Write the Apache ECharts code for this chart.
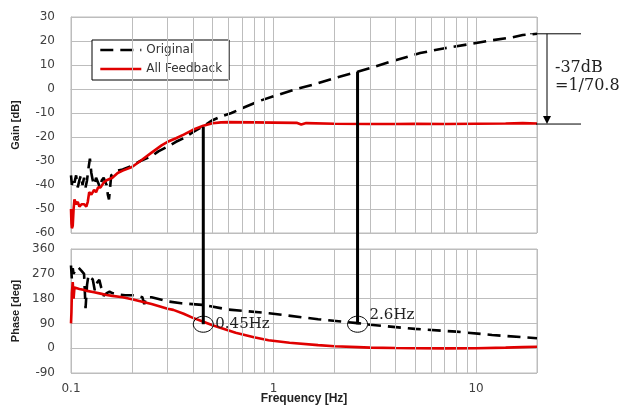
<!DOCTYPE html>
<html>
<head>
<meta charset="utf-8">
<script src="https://cdn.jsdelivr.net/npm/echarts@6/dist/echarts.min.js"></script>
<style>html,body{margin:0;padding:0;background:#fff}#c{width:622px;height:406px}</style>
</head>
<body>
<div id="c"></div>
<script>
// ---- data ----
const gainOrigFreq = [0.100,0.101,0.102,0.104,0.106,0.108,0.110,0.112,0.114,0.116,0.118,0.120,0.122,0.124,0.126,0.128,0.130,0.133,0.136,0.139,0.142,0.145,0.148,0.150,0.152,0.154,0.156,0.158,0.162,0.170,0.180,0.20,0.22,0.25,0.27,0.30,0.33,0.36,0.40,0.45,0.50,0.55,0.62,0.70,0.85,1.0,1.3,1.6,2.0,2.6,3.0,4.0,5.3,7.0,9.3,12,15,17,20];
const gainOrig     = [-36,-40,-37,-39,-36,-41,-38,-36,-40,-37,-41,-38,-33,-29,-35,-38,-40,-37,-39,-41,-38,-37,-39,-40,-44,-46,-41,-36,-35,-34,-33.5,-32,-30,-28,-26,-24,-22,-20.5,-18,-15.5,-13,-11.5,-10,-8,-5,-3,0,2,4.5,7.2,8.7,12,15,17,18.7,20.3,21.5,22.5,23];
const gainFbFreq = [0.100,0.1005,0.101,0.102,0.103,0.104,0.106,0.108,0.110,0.113,0.116,0.119,0.121,0.123,0.126,0.130,0.133,0.136,0.140,0.145,0.150,0.160,0.170,0.180,0.20,0.22,0.25,0.28,0.30,0.33,0.36,0.40,0.45,0.50,0.55,0.6,0.8,1.0,1.3,1.37,1.45,2,3,4,5,7,10,14,17,20];
const gainFb     = [-50,-56,-58,-57,-50,-46,-48,-47,-49,-48,-48,-49,-47,-43,-44,-42,-43,-41,-41,-39,-38,-37,-35,-34,-32.5,-30,-26.5,-23.5,-22,-20.5,-19,-17,-15.3,-14.3,-13.9,-13.8,-13.9,-14,-14.1,-14.8,-14.2,-14.5,-14.6,-14.6,-14.5,-14.6,-14.5,-14.4,-14.2,-14.4];
const phaseOrigFreq = [0.100,0.101,0.102,0.103,0.105,0.108,0.110,0.113,0.116,0.118,0.120,0.122,0.125,0.128,0.131,0.135,0.138,0.141,0.145,0.150,0.155,0.160,0.170,0.185,0.21,0.225,0.23,0.235,0.25,0.30,0.35,0.45,0.6,0.95,1.66,2.6,3,5,8,12,20];
const phaseOrig     = [300,250,290,270,285,295,290,280,270,145,230,265,255,250,210,240,248,220,190,200,205,200,195,192,192,185,160,185,185,170,163,157,140,127,105,91,85,70,60,48,36];
const phaseFbFreq = [0.100,0.1005,0.101,0.102,0.103,0.104,0.106,0.110,0.115,0.120,0.130,0.140,0.150,0.160,0.18,0.20,0.25,0.30,0.32,0.36,0.40,0.444,0.5,0.65,0.8,0.945,1.2,1.66,2.0,2.6,3,4,5,7,10,14,17,20];
const phaseFb     = [90,130,200,240,180,220,225,215,212,208,203,198,193,190,185,178,160,143,139,125,110,98,83,56,40,29,20,11,7,4,2,0.5,0,-0.5,0,2,4,5];
const minorFreqs = [0.2,0.3,0.4,0.5,0.6,0.7,0.8,0.9,2,3,4,5,6,7,8,9];
const markFreqs = [0.45, 2.6];
const markGainTop = [-15.8, 7.2];
const markPhase = [87, 87];
const markLabels = ['0.45Hz', '2.6Hz'];
const bracketGains = [23, -14.6];
const bracketLabels = ['-37dB', '=1/70.8'];
const seriesNames = ['Original', 'All Feedback'];

const zip = (a, b) => a.map((v, i) => [v, b[i]]);
const GRID = '#bdbdbd';
const TICKFONT = {fontFamily: 'DejaVu Sans', fontSize: 12, color: '#404040'};

function xAx(idx, showLabel) {
  return {
    type: 'log', logBase: 10, min: 0.1, max: 20, gridIndex: idx,
    axisLine: {show: true, lineStyle: {color: GRID}},
    axisTick: {show: false},
    splitLine: {show: true, lineStyle: {color: GRID, width: 1}},
    axisLabel: Object.assign({show: showLabel, margin: 10, showMaxLabel: false,
      formatter: v => String(+v.toPrecision(3))}, TICKFONT),
    name: showLabel ? 'Frequency [Hz]' : '', nameLocation: 'middle', nameGap: 20,
    nameMoveOverlap: false,
    nameTextStyle: {fontFamily: 'Liberation Sans', fontWeight: 'bold', fontSize: 12, color: '#222'}
  };
}
function yAx(idx, min, max, interval, name) {
  return {
    type: 'value', gridIndex: idx, min, max, interval,
    axisLine: {show: true, lineStyle: {color: GRID}},
    axisTick: {show: false},
    splitLine: {show: true, lineStyle: {color: GRID, width: 1}},
    axisLabel: Object.assign({margin: 16}, TICKFONT),
    name, nameLocation: 'middle', nameGap: 50, nameMoveOverlap: false,
    nameTextStyle: {fontFamily: 'Liberation Sans', fontWeight: 'bold', fontSize: 11, color: '#222'}
  };
}
function minorSeries(idx) {
  return {
    type: 'line', xAxisIndex: idx, yAxisIndex: idx, data: [], z: 1, silent: true,
    markLine: {silent: true, symbol: ['none', 'none'], label: {show: false},
      lineStyle: {color: GRID, type: 'solid', width: 1},
      data: minorFreqs.map(v => ({xAxis: v}))}
  };
}
const dashStyle = {color: '#000', width: 2.6, type: [13, 7]};
const redStyle = {color: '#e00000', width: 2.6};

const chart = echarts.init(document.getElementById('c'), null, {renderer: 'canvas'});
const option = {
  animation: false,
  backgroundColor: '#fff',
  grid: [
    {left: 71, right: 85, top: 17, height: 216, show: true, borderColor: GRID, borderWidth: 1, outerBoundsMode: 'none'},
    {left: 71, right: 85, top: 249, height: 124, show: true, borderColor: GRID, borderWidth: 1, outerBoundsMode: 'none'}
  ],
  xAxis: [xAx(0, false), xAx(1, true)],
  yAxis: [yAx(0, -60, 30, 10, 'Gain [dB]'), yAx(1, -90, 360, 90, 'Phase [deg]')],
  legend: {
    data: seriesNames, orient: 'vertical', left: 92, top: 40,
    backgroundColor: '#fff', borderColor: '#000', borderWidth: 1,
    padding: [4, 7, 5, 7], itemGap: 7, itemWidth: 41, itemHeight: 14,
    selectedMode: false,
    itemStyle: {opacity: 0, borderWidth: 0},
    lineStyle: {width: 2.6},
    textStyle: {fontFamily: 'DejaVu Sans', fontSize: 12, color: '#333'}
  },
  series: [
    minorSeries(0), minorSeries(1),
    {name: seriesNames[0], type: 'line', xAxisIndex: 0, yAxisIndex: 0, symbol: 'none', z: 3,
      lineStyle: dashStyle, itemStyle: {color: '#000'}, data: zip(gainOrigFreq, gainOrig)},
    {name: seriesNames[1], type: 'line', xAxisIndex: 0, yAxisIndex: 0, symbol: 'none', z: 4,
      lineStyle: redStyle, itemStyle: {color: '#e00000'}, data: zip(gainFbFreq, gainFb)},
    {name: seriesNames[0], type: 'line', xAxisIndex: 1, yAxisIndex: 1, symbol: 'none', z: 3,
      lineStyle: dashStyle, itemStyle: {color: '#000'}, data: zip(phaseOrigFreq, phaseOrig)},
    {name: seriesNames[1], type: 'line', xAxisIndex: 1, yAxisIndex: 1, symbol: 'none', z: 4,
      lineStyle: redStyle, itemStyle: {color: '#e00000'}, data: zip(phaseFbFreq, phaseFb)}
  ]
};
chart.setOption(option);

const px = (g, x, y) => chart.convertToPixel({xAxisIndex: g, yAxisIndex: g}, [x, y]);
const graphics = [];
const serifFont = 'DejaVu Serif';
markFreqs.forEach((f, i) => {
  const top = px(0, f, markGainTop[i]);
  const bot = px(1, f, markPhase[i]);
  graphics.push({type: 'line', z: 50, shape: {x1: top[0], y1: top[1], x2: bot[0], y2: bot[1]},
    style: {stroke: '#000', lineWidth: 3}});
  graphics.push({type: 'ellipse', z: 51, shape: {cx: bot[0], cy: bot[1], rx: 10, ry: 8},
    style: {stroke: '#000', lineWidth: 1, fill: 'none'}});
  graphics.push({type: 'text', z: 52, x: bot[0] + 12, y: bot[1] - (i === 0 ? 0 : 9),
    style: {text: markLabels[i], font: '15px "' + serifFont + '"', fill: '#222',
      verticalAlign: 'middle', align: 'left'}});
});
const pTop = px(0, 20, bracketGains[0]);
const pBot = px(0, 20, bracketGains[1]);
const rx = pTop[0];
graphics.push({type: 'line', z: 50, shape: {x1: rx - 7, y1: pTop[1], x2: rx + 44, y2: pTop[1]}, style: {stroke: '#000', lineWidth: 1}});
graphics.push({type: 'line', z: 50, shape: {x1: rx - 1, y1: pBot[1], x2: rx + 44, y2: pBot[1]}, style: {stroke: '#000', lineWidth: 1}});
graphics.push({type: 'line', z: 50, shape: {x1: rx + 10, y1: pTop[1], x2: rx + 10, y2: pBot[1] - 6}, style: {stroke: '#000', lineWidth: 1}});
graphics.push({type: 'polygon', z: 50, shape: {points: [[rx + 6, pBot[1] - 8], [rx + 14, pBot[1] - 8], [rx + 10, pBot[1]]]}, style: {fill: '#000'}});
const midY = (pTop[1] + pBot[1]) / 2;
graphics.push({type: 'text', z: 52, x: rx + 18, y: midY - 11,
  style: {text: bracketLabels[0], font: '16px "' + serifFont + '"', fill: '#222', verticalAlign: 'middle'}});
graphics.push({type: 'text', z: 52, x: rx + 18, y: midY + 7,
  style: {text: bracketLabels[1], font: '16px "' + serifFont + '"', fill: '#222', verticalAlign: 'middle'}});
chart.setOption({graphic: graphics});
</script>
</body>
</html>
